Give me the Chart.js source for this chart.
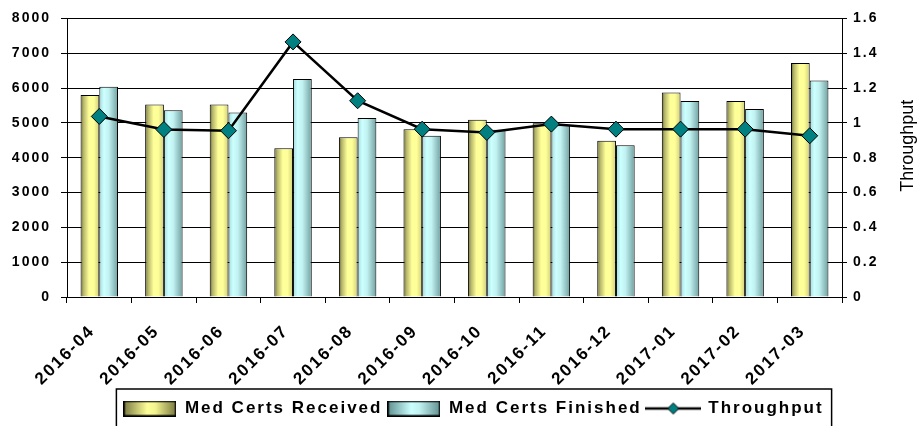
<!DOCTYPE html>
<html lang="en">
<head>
  <meta charset="UTF-8">
  <title>Med Certs Throughput</title>
  <script src="https://cdn.jsdelivr.net/npm/chart.js"></script>
  <style>
    * {
      margin: 0;
      padding: 0;
      box-sizing: border-box;
    }
    body {
      background-color: #ffffff;
    }
    .chart-box {
      position: relative;
      width: 917px;
      height: 426px;
    }
  </style>
</head>
<body>
  <div class="chart-box">
    <canvas id="certChart"></canvas>
  </div>

  <script>
    const months = ['2016-04', '2016-05', '2016-06', '2016-07', '2016-08', '2016-09',
                    '2016-10', '2016-11', '2016-12', '2017-01', '2017-02', '2017-03'];
    const received = [5800, 5530, 5530, 4270, 4590, 4820, 5090, 4990, 4490, 5870, 5630, 6720];
    const finished = [6040, 5360, 5300, 6260, 5140, 4630, 4800, 4930, 4360, 5630, 5400, 6220];
    const throughput = [1.037, 0.962, 0.955, 1.465, 1.127, 0.964, 0.945, 0.993, 0.964, 0.964, 0.964, 0.926];

    const leftTickLabels = ['0', '1000', '2000', '3000', '4000', '5000', '6000', '7000', '8000'];
    const rightTickLabels = ['0', '0.2', '0.4', '0.6', '0.8', '1', '1.2', '1.4', '1.6'];
    const seriesNames = ['Med Certs Received', 'Med Certs Finished', 'Throughput'];
    const rightTitle = 'Throughput';

    const FONT = "'Liberation Sans', Arial, sans-serif";
    const CAT_PCT = 0.58;

    const yellowStops = [[0, '#66662f'], [0.15, '#b4b46a'], [0.45, '#ffff99'], [0.7, '#ffff99'], [1, '#cfcf7a']];
    const cyanStops = [[0, '#a6d9d9'], [0.25, '#ccffff'], [0.5, '#c2f2f2'], [1, '#6f9f9f']];
    const swatchYellow = [[0, '#77773f'], [0.45, '#ffff99'], [0.6, '#f5f590'], [1, '#77773f']];
    const swatchCyan = [[0, '#5f8f8f'], [0.45, '#ccffff'], [0.6, '#c2f2f2'], [1, '#5f8f8f']];

    function barFill(ctx, stops, side) {
      const chart = ctx.chart;
      const xs = chart.scales.x;
      if (ctx.type !== 'data' || !xs || !xs.width) return stops[2][1];
      const center = xs.getPixelForValue(ctx.dataIndex);
      const w = xs.width / months.length * CAT_PCT / 2;
      const left = side < 0 ? center - w : center;
      const g = chart.ctx.createLinearGradient(left, 0, left + w, 0);
      stops.forEach(s => g.addColorStop(s[0], s[1]));
      return g;
    }

    function makeSwatch(stops) {
      const c = document.createElement('canvas');
      c.width = 53;
      c.height = 16;
      const g2 = c.getContext('2d');
      const g = g2.createLinearGradient(0, 0, 53, 0);
      stops.forEach(s => g.addColorStop(s[0], s[1]));
      g2.fillStyle = g;
      g2.fillRect(0, 0, 53, 16);
      g2.strokeStyle = '#000';
      g2.lineWidth = 1.5;
      g2.strokeRect(0.75, 0.75, 51.5, 14.5);
      return c;
    }

    function makeLineSwatch() {
      const c = document.createElement('canvas');
      c.width = 56;
      c.height = 16;
      const g2 = c.getContext('2d');
      g2.strokeStyle = '#000';
      g2.lineWidth = 2.5;
      g2.beginPath();
      g2.moveTo(0, 8);
      g2.lineTo(56, 8);
      g2.stroke();
      g2.beginPath();
      g2.moveTo(28, 2.5);
      g2.lineTo(33.5, 8);
      g2.lineTo(28, 13.5);
      g2.lineTo(22.5, 8);
      g2.closePath();
      g2.fillStyle = '#008080';
      g2.fill();
      g2.lineWidth = 1;
      g2.stroke();
      return c;
    }

    const legendImages = [makeSwatch(swatchYellow), makeSwatch(swatchCyan), makeLineSwatch()];

    // excel style spaced lettering, has to be set again after every canvas reset
    const spacing = {
      id: 'spacing',
      beforeUpdate(chart) { chart.ctx.letterSpacing = '2px'; },
      beforeLayout(chart) { chart.ctx.letterSpacing = '2px'; },
      beforeDraw(chart) { chart.ctx.letterSpacing = '2px'; },
      afterLayout(chart) {
        // legend sits a bit right of the canvas centre in the original
        chart.legend.left += 15;
        chart.legend.right += 15;
      }
    };

    const extras = {
      id: 'extras',
      afterDraw(chart) {
        const ctx = chart.ctx;
        const area = chart.chartArea;
        ctx.save();
        ctx.letterSpacing = '0px';
        ctx.fillStyle = '#000';
        ctx.font = '18px ' + FONT;
        ctx.textAlign = 'center';
        ctx.textBaseline = 'middle';
        ctx.translate(chart.width - 9, (area.top + area.bottom) / 2 - 12);
        ctx.rotate(-Math.PI / 2);
        ctx.fillText(rightTitle, 0, 0);
        ctx.restore();

        const boxes = chart.legend.legendHitBoxes;
        if (!boxes || !boxes.length) return;
        const l = Math.min(...boxes.map(b => b.left)) - 7;
        const r = Math.max(...boxes.map(b => b.left + b.width)) + 8;
        const t = chart.legend.top - 6;
        ctx.save();
        ctx.strokeStyle = '#000';
        ctx.lineWidth = 1.5;
        ctx.strokeRect(l, t, r - l, chart.height - t + 10);
        ctx.restore();
      }
    };

    const tickFont = { family: FONT, size: 14, weight: 'bold' };

    new Chart(document.getElementById('certChart'), {
      data: {
        labels: months,
        datasets: [
          {
            type: 'line',
            label: seriesNames[2],
            data: throughput,
            yAxisID: 'y1',
            order: 0,
            borderColor: '#000',
            borderWidth: 2.5,
            tension: 0,
            pointStyle: 'rectRot',
            pointRadius: 8,
            pointBackgroundColor: '#008080',
            pointBorderColor: '#000',
            pointBorderWidth: 1
          },
          {
            type: 'bar',
            label: seriesNames[0],
            data: received,
            yAxisID: 'y',
            order: 1,
            backgroundColor: c => barFill(c, yellowStops, -1),
            borderColor: '#000',
            borderWidth: 1,
            categoryPercentage: CAT_PCT,
            barPercentage: 1
          },
          {
            type: 'bar',
            label: seriesNames[1],
            data: finished,
            yAxisID: 'y',
            order: 1,
            backgroundColor: c => barFill(c, cyanStops, 1),
            borderColor: '#000',
            borderWidth: 1,
            categoryPercentage: CAT_PCT,
            barPercentage: 1
          }
        ]
      },
      options: {
        responsive: true,
        maintainAspectRatio: false,
        animation: false,
        layout: {
          padding: { top: 16, bottom: -1, left: 0, right: 0 }
        },
        plugins: {
          tooltip: { enabled: false },
          legend: {
            position: 'bottom',
            labels: {
              usePointStyle: true,
              pointStyleWidth: 53,
              boxHeight: 16,
              padding: 5,
              color: '#000',
              font: { family: FONT, size: 17, weight: 'bold' },
              generateLabels: () => [1, 2, 0].map(i => ({
                text: seriesNames[i === 0 ? 2 : i - 1],
                pointStyle: legendImages[i === 0 ? 2 : i - 1],
                fillStyle: '#fff',
                strokeStyle: '#000',
                lineWidth: 0,
                hidden: false,
                datasetIndex: i
              }))
            }
          }
        },
        scales: {
          x: {
            offset: true,
            afterFit: s => { s.height = 98; },
            grid: {
              drawOnChartArea: false,
              color: '#000',
              tickLength: 6,
              offset: true
            },
            border: { color: '#000', width: 1 },
            ticks: {
              color: '#000',
              font: { family: FONT, size: 17, weight: 'bold' },
              minRotation: 45,
              maxRotation: 45,
              autoSkip: false,
              padding: 18,
              labelOffset: -7
            }
          },
          y: {
            position: 'left',
            min: 0,
            max: 8000,
            afterFit: s => { s.width = 67; },
            grid: {
              color: '#000',
              lineWidth: 1,
              tickLength: 6
            },
            border: { color: '#000', width: 1 },
            ticks: {
              stepSize: 1000,
              color: '#000',
              font: tickFont,
              padding: 10,
              callback: (v, i) => leftTickLabels[i]
            }
          },
          y1: {
            position: 'right',
            min: 0,
            max: 1.6,
            afterFit: s => { s.width = 75; },
            grid: {
              drawOnChartArea: false,
              color: '#000',
              tickLength: 5
            },
            border: { color: '#000', width: 1 },
            ticks: {
              stepSize: 0.2,
              color: '#000',
              font: tickFont,
              padding: 6,
              callback: (v, i) => rightTickLabels[i]
            }
          }
        }
      },
      plugins: [spacing, extras]
    });
  </script>
</body>
</html>
